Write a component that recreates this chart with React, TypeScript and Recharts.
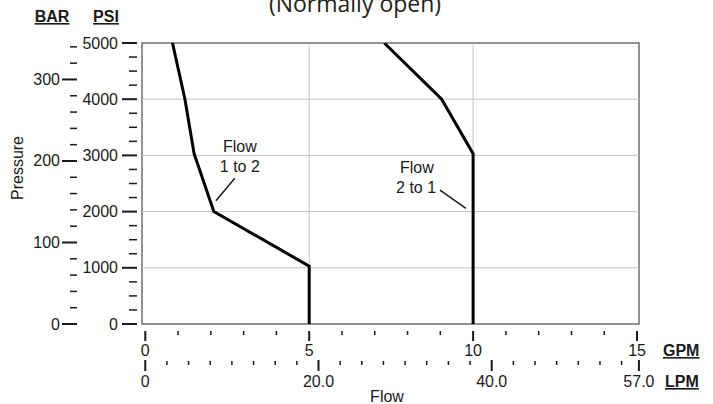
import React from 'react';
import { LineChart, Line, XAxis, YAxis, ReferenceLine, ReferenceArea, ReferenceDot } from 'recharts';

// Flow 1 to 2 curve (GPM, PSI)
const flow12Gpm = [0.83, 1.21, 1.49, 2.09, 5.0, 5.0];
const flow12Psi = [5000, 4000, 3030, 2000, 1030, 0];
// Flow 2 to 1 curve (GPM, PSI)
const flow21Gpm = [7.29, 9.04, 10.0, 10.0];
const flow21Psi = [5000, 4000, 3030, 0];

const gpmTicks = [0, 1, 2, 3, 4, 5, 6, 7, 8, 9, 10, 11, 12, 13, 14, 15];
const gpmMajor = [0, 5, 10, 15];
const lpmTicks = [0, 2.5, 5, 7.5, 10, 12.5, 15, 17.5, 20, 22.5, 25, 27.5, 30, 32.5, 35, 37.5, 40, 42.5, 45, 47.5, 50, 52.5, 55, 57];
const lpmMajor = [0, 20, 40, 57];
const lpmLabels = ['0', '20.0', '40.0', '57.0'];
const psiTicks = [0, 250, 500, 750, 1000, 1250, 1500, 1750, 2000, 2250, 2500, 2750, 3000, 3250, 3500, 3750, 4000, 4250, 4500, 4750, 5000];
const psiMajor = [0, 1000, 2000, 3000, 4000, 5000];
const barTicks = [0, 20, 40, 60, 80, 100, 120, 140, 160, 180, 200, 220, 240, 260, 280, 300, 320, 340];
const barMajor = [0, 100, 200, 300];
const gridGpm = [5, 10];
const gridPsi = [1000, 2000, 3000, 4000];

const PSI_PER_BAR = 14.5038;
const LPM_PER_GPM = 3.78541;
const gpmDomain = [-0.1, 15.06];
const lpmDomain = [gpmDomain[0] * LPM_PER_GPM, gpmDomain[1] * LPM_PER_GPM];
const psiDomain = [0, 5000];
const barDomain = [0, 5000 / PSI_PER_BAR];

const flow12 = flow12Gpm.map((g, i) => ({ gpm: g, lpm: g * LPM_PER_GPM, psi: flow12Psi[i] }));
const flow21 = flow21Gpm.map((g, i) => ({ gpm: g, lpm: g * LPM_PER_GPM, psi: flow21Psi[i] }));

const FONT = '"Liberation Sans", Arial, sans-serif';
const INK = '#1a1a1a';
const FS = 16;
const PSI_ID = 'y1psi';
const BAR_ID = 'y2bar';

const GpmTick = (props: any) => {
  const { x, y, payload } = props;
  const v = payload.value;
  const major = gpmMajor.includes(v);
  return (
    <g>
      <line x1={x} x2={x} y1={y + 7} y2={major ? y + 17 : y + 11} stroke={INK} strokeWidth={major ? 2 : 1.5} />
      {major && (
        <text x={x} y={y + 32} textAnchor="middle" fontFamily={FONT} fontSize={FS} fill={INK}>{v}</text>
      )}
    </g>
  );
};

const LpmTick = (props: any) => {
  const { x, y, payload } = props;
  const v = payload.value;
  const idx = lpmMajor.indexOf(v);
  const major = idx >= 0;
  return (
    <g>
      <line x1={x} x2={x} y1={major ? y : y + 1} y2={major ? y + 11 : y + 5} stroke={INK} strokeWidth={major ? 2 : 1.5} />
      {major && (
        <text x={x} y={y + 27} textAnchor="middle" fontFamily={FONT} fontSize={FS} fill={INK}>{lpmLabels[idx]}</text>
      )}
    </g>
  );
};

const PsiTick = (props: any) => {
  const { x, y, payload } = props;
  const v = payload.value;
  const major = psiMajor.includes(v);
  return (
    <g>
      <line x1={major ? x - 20 : x - 13} x2={x - 5} y1={y} y2={y} stroke={INK} strokeWidth={major ? 2 : 1.5} />
      {major && (
        <text x={x - 24} y={y + 5.5} textAnchor="end" fontFamily={FONT} fontSize={FS} fill={INK}>{v}</text>
      )}
    </g>
  );
};

const BarTick = (props: any) => {
  const { x, y, payload } = props;
  const v = payload.value;
  const major = barMajor.includes(v);
  return (
    <g>
      <line x1={major ? x - 16 : x - 8} x2={x - 1} y1={y} y2={y} stroke={INK} strokeWidth={major ? 2 : 1.5} />
      {major && (
        <text x={x - 18} y={y + 5.5} textAnchor="end" fontFamily={FONT} fontSize={FS} fill={INK}>{v}</text>
      )}
    </g>
  );
};

const textShape = (label: string) => (p: any) => (
  <text x={p.cx} y={p.cy} textAnchor="middle" fontFamily={FONT} fontSize={FS} fill={INK}>{label}</text>
);

export default function App() {
  return (
    <div style={{ position: 'absolute', left: 0, top: 0, width: 713, height: 404, background: '#fff' }}>
      <LineChart width={713} height={404} margin={{ top: 43, right: 74, bottom: 0, left: 0 }}>
        <XAxis xAxisId="gpm" type="number" dataKey="gpm" domain={gpmDomain} allowDataOverflow ticks={gpmTicks} interval={0}
          height={36} axisLine={false} tickLine={false} tickSize={0} tickMargin={0} tick={<GpmTick />} />
        <XAxis xAxisId="lpm" type="number" dataKey="lpm" domain={lpmDomain} allowDataOverflow ticks={lpmTicks} interval={0}
          height={44} axisLine={false} tickLine={false} tickSize={0} tickMargin={0} tick={<LpmTick />} />
        <YAxis yAxisId={PSI_ID} type="number" dataKey="psi" domain={psiDomain} allowDataOverflow ticks={psiTicks} interval={0}
          width={64} axisLine={false} tickLine={false} tickSize={0} tickMargin={0} tick={<PsiTick />} />
        <YAxis yAxisId={BAR_ID} type="number" domain={barDomain} allowDataOverflow ticks={barTicks} interval={0}
          width={78} axisLine={false} tickLine={false} tickSize={0} tickMargin={0} tick={<BarTick />} />

        {gridGpm.map((g) => (
          <ReferenceLine key={'gx' + g} xAxisId="gpm" yAxisId={PSI_ID} x={g} stroke="#c4c4c4" strokeWidth={1} />
        ))}
        {gridPsi.map((p) => (
          <ReferenceLine key={'gy' + p} xAxisId="gpm" yAxisId={PSI_ID} y={p} stroke="#c4c4c4" strokeWidth={1} />
        ))}
        <ReferenceArea xAxisId="gpm" yAxisId={PSI_ID} x1={gpmDomain[0]} x2={gpmDomain[1]} y1={psiDomain[0]} y2={psiDomain[1]}
          fill="none" fillOpacity={0} stroke="#6e6e6e" strokeWidth={1.5} />

        {/* same curve on the LPM axis, invisible, so the LPM scale is bound to data */}
        <Line xAxisId="lpm" yAxisId={PSI_ID} data={flow12} dataKey="psi" type="linear" stroke="transparent" strokeWidth={0}
          dot={false} activeDot={false} isAnimationActive={false} />

        <Line xAxisId="gpm" yAxisId={PSI_ID} data={flow12} dataKey="psi" type="linear" stroke="#000" strokeWidth={3}
          dot={false} activeDot={false} isAnimationActive={false} />
        <Line xAxisId="gpm" yAxisId={PSI_ID} data={flow21} dataKey="psi" type="linear" stroke="#000" strokeWidth={3}
          dot={false} activeDot={false} isAnimationActive={false} />

        <ReferenceLine xAxisId="gpm" yAxisId={PSI_ID} segment={[{ x: 2.73, y: 2593 }, { x: 2.155, y: 2194 }]} stroke={INK} strokeWidth={1.5} />
        <ReferenceLine xAxisId="gpm" yAxisId={PSI_ID} segment={[{ x: 8.99, y: 2384 }, { x: 9.78, y: 2059 }]} stroke={INK} strokeWidth={1.5} />
        <ReferenceDot xAxisId="gpm" yAxisId={PSI_ID} x={2.885} y={3055} r={0} shape={textShape('Flow')} />
        <ReferenceDot xAxisId="gpm" yAxisId={PSI_ID} x={2.885} y={2710} r={0} shape={textShape('1 to 2')} />
        <ReferenceDot xAxisId="gpm" yAxisId={PSI_ID} x={8.285} y={2681} r={0} shape={textShape('Flow')} />
        <ReferenceDot xAxisId="gpm" yAxisId={PSI_ID} x={8.26} y={2326} r={0} shape={textShape('2 to 1')} />

        <text x={355} y={12} textAnchor="middle" fontFamily='"Open Sans", sans-serif' fontSize={23} fill="#231f20">(Normally open)</text>
        <text x={52} y={22} textAnchor="middle" fontFamily={FONT} fontSize={FS} fontWeight="bold" fill={INK} style={{ textDecoration: 'underline' }}>BAR</text>
        <text x={106} y={22} textAnchor="middle" fontFamily={FONT} fontSize={FS} fontWeight="bold" fill={INK} style={{ textDecoration: 'underline' }}>PSI</text>
        <text x={663} y={356} textAnchor="start" fontFamily={FONT} fontSize={FS} fontWeight="bold" fill={INK} style={{ textDecoration: 'underline' }}>GPM</text>
        <text x={665} y={387} textAnchor="start" fontFamily={FONT} fontSize={FS} fontWeight="bold" fill={INK} style={{ textDecoration: 'underline' }}>LPM</text>
        <text transform="translate(23,168) rotate(-90)" textAnchor="middle" fontFamily={FONT} fontSize={FS} fill={INK}>Pressure</text>
        <text x={387} y={402} textAnchor="middle" fontFamily={FONT} fontSize={FS} fill={INK}>Flow</text>
      </LineChart>
    </div>
  );
}
